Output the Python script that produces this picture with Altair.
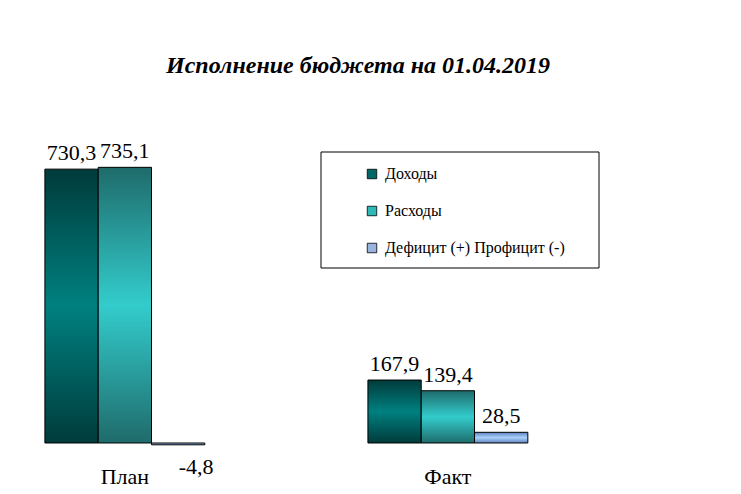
import altair as alt
import pandas as pd

categories = ["План", "Факт"]
series = ["Доходы", "Расходы", "Дефицит (+) Профицит (-)"]
dohody = [730.3, 167.9]
rashody = [735.1, 139.4]
deficit = [-4.8, 28.5]

legend_colors = ["#006666", "#2eb8b8", "#99b3e0"]
grad_edges = ["#003b3b", "#1f6b6b", "#5f84bf"]
grad_mids = ["#008080", "#33cccc", "#a8d0fa"]

rows = []
for s, vals in zip(series, [dohody, rashody, deficit]):
    for c, v in zip(categories, vals):
        rows.append({"cat": c, "series": s, "value": v,
                     "label": f"{v:.1f}".replace(".", ",")})
df = pd.DataFrame(rows)

FONT = "Liberation Serif"

x_enc = alt.X("cat:N", sort=categories, title=None,
              scale=alt.Scale(paddingInner=0.505, paddingOuter=0.336, align=0.17),
              axis=alt.Axis(labelAngle=0, domain=False, ticks=False,
                            labelFont=FONT, labelFontSize=22, labelColor="black",
                            labelPadding=4))
xo_enc = alt.XOffset("series:N", sort=series,
                     scale=alt.Scale(domain=series, paddingInner=0, paddingOuter=0))
y_enc = alt.Y("value:Q", axis=None,
              scale=alt.Scale(domain=[-50.67, 893.33], nice=False, zero=False))

base = alt.Chart(df)

layers = []
for s, e, m in zip(series, grad_edges, grad_mids):
    grad = alt.LinearGradient(
        gradient="linear", x1=0, x2=0, y1=0, y2=1,
        stops=[alt.GradientStop(offset=0, color=e),
               alt.GradientStop(offset=0.5, color=m),
               alt.GradientStop(offset=1, color=e)])
    layers.append(
        base.transform_filter(alt.datum.series == s)
        .mark_bar(color=grad, stroke="black", strokeWidth=1)
        .encode(x=x_enc, xOffset=xo_enc, y=y_enc)
    )

legend_layer = base.mark_square(opacity=0, size=1).encode(
    x=x_enc, xOffset=xo_enc, y=y_enc,
    color=alt.Color("series:N", sort=series,
                    scale=alt.Scale(domain=series, range=legend_colors),
                    legend=alt.Legend(title=None, orient="none", legendX=356, legendY=58,
                                      symbolType="square", symbolSize=90,
                                      symbolOpacity=1, symbolStrokeColor="black",
                                      symbolStrokeWidth=0.8,
                                      labelFont=FONT, labelFontSize=16,
                                      labelColor="black", labelOffset=5,
                                      rowPadding=21, padding=0, labelLimit=300))
)

text_pos = base.transform_filter(alt.datum.value >= 0).mark_text(
    font=FONT, fontSize=22, baseline="bottom", dy=-4, color="black"
).encode(x=x_enc, xOffset=xo_enc, y=y_enc, text="label:N")

text_neg = base.transform_filter(alt.datum.value < 0).mark_text(
    font=FONT, fontSize=22, baseline="top", dy=12, dx=18, color="black"
).encode(x=x_enc, xOffset=xo_enc, y=y_enc, text="label:N")

legend_box = alt.Chart(alt.Data(values=[{}])).mark_rect(
    fill=None, stroke="black", strokeWidth=1
).encode(x=alt.value(313), x2=alt.value(591), y=alt.value(44), y2=alt.value(160))

chart = alt.layer(*layers, legend_layer, text_pos, text_neg, legend_box).properties(
    width=700, height=354,
    background="white",
    title=alt.TitleParams("Исполнение бюджета на 01.04.2019", font=FONT,
                          fontSize=24, fontStyle="italic", fontWeight="bold",
                          anchor="middle", color="black", offset=30),
    autosize=alt.AutoSizeParams(type="none"),
    padding={"left": 0, "top": 100, "right": 25, "bottom": 30},
).configure_view(strokeWidth=0, stroke="transparent")

chart.save("out.html", embed_options={"renderer": "svg", "actions": False})
